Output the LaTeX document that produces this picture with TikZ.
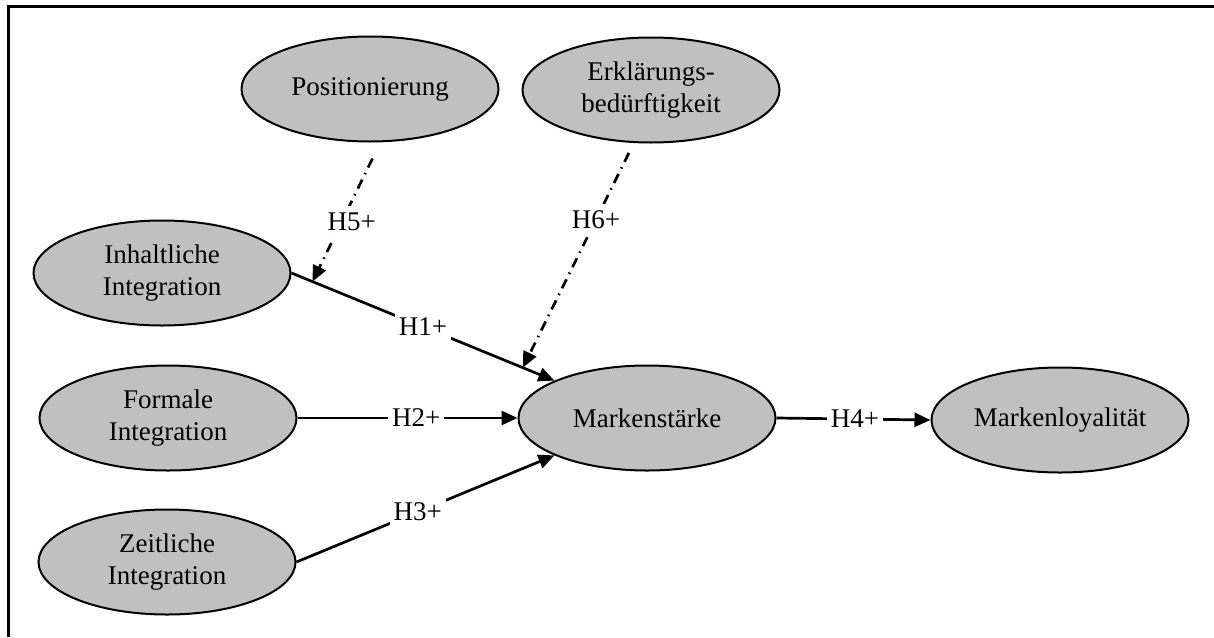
\documentclass[tikz,border=0pt]{standalone}
\usepackage{fontspec}
\setmainfont{Liberation Serif}
\usetikzlibrary{arrows.meta,shapes.geometric}
\definecolor{ellgray}{HTML}{C0C0C0}
\begin{document}
\begin{tikzpicture}[x=1pt,y=-1pt,
  construct/.style={ellipse,draw=black,line width=2pt,fill=ellgray,
    minimum width=257pt,minimum height=105pt,inner sep=0pt,align=center,
    font=\fontsize{27}{32}\selectfont},
  link/.style={line width=2.7pt,-{Triangle[length=16pt,width=14pt]}},
  dlink/.style={line width=2.7pt,dash pattern=on 10pt off 6pt on 1.5pt off 6pt,
    -{Triangle[length=16pt,width=14pt]}},
  lbl/.style={fill=white,inner sep=4pt,font=\fontsize{27}{32}\selectfont}]
\useasboundingbox (0,0) rectangle (1214,637);
\draw[line width=2.2pt] (1214,6.5) -- (8.5,6.5) -- (8.5,637);

\node[construct] (posi) at (370,89) {Positionierung};
\node[construct] (erk) at (651,90) {Erklärungs-\\bedürftigkeit};
\node[construct] (inh) at (162,273) {Inhaltliche\\Integration};
\node[construct] (form) at (168,418) {Formale\\Integration};
\node[construct] (zeit) at (167,562) {Zeitliche\\Integration};
\node[construct] (mark) at (647,418) {Markenstärke};
\node[construct] (loy) at (1060,420) {Markenloyalität};

\draw[link] (inh.east) -- node[lbl]{H1+} coordinate[pos=0.08] (h5end) coordinate[pos=0.88] (h6end) (mark.158);
\draw[link] (form.east) -- node[lbl,pos=0.54]{H2+} (mark.west);
\draw[link] (zeit.east) -- node[lbl,pos=0.47]{H3+} (mark.202);
\draw[link] (mark.east) -- node[lbl,pos=0.51]{H4+} (loy.west);
\draw[dlink,shorten <=18pt] (posi.281) -- node[lbl,inner sep=7pt,pos=0.57,xshift=10pt]{H5+} (h5end);
\draw[dlink,shorten <=11pt] (erk.252) -- node[lbl,inner sep=6pt,pos=0.34]{H6+} (h6end);
\end{tikzpicture}
\end{document}
